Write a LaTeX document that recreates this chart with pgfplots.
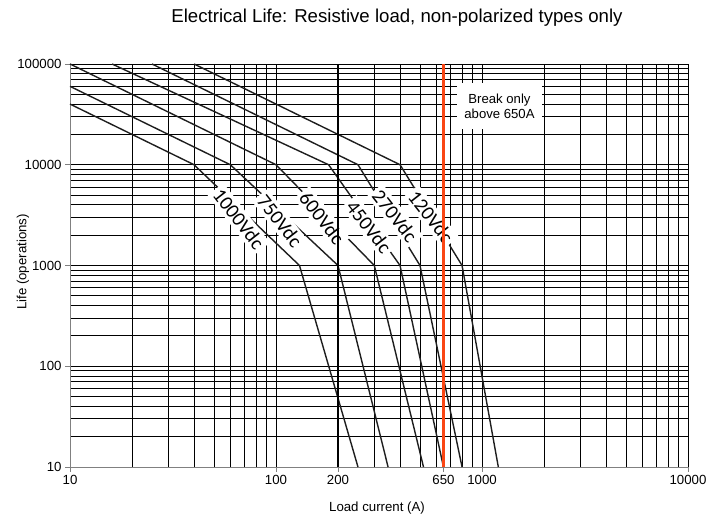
\documentclass[border=0pt]{standalone}
\usepackage{pgfplots}
\pgfplotsset{compat=1.18}
\usepackage{fontspec}
\setmainfont{Liberation Sans}
\newfontfamily\calibri{Carlito}
\definecolor{redline}{RGB}{250,70,20}
\definecolor{curve}{RGB}{30,30,30}
\begin{document}
\begin{tikzpicture}[x=1bp,y=1bp]
\useasboundingbox (0,0) rectangle (719,517);
\begin{axis}[
  at={(70bp,50bp)}, anchor=south west,
  scale only axis, width=618bp, height=403bp,
  xmode=log, ymode=log,
  xmin=10, xmax=10000, ymin=10, ymax=100000,
  enlargelimits=false,
  axis x line*=bottom, axis y line*=left,
  axis line style={-, draw=gray, line width=0.8bp},
  xtick={10,100,200,650,1000,10000},
  xticklabels={10,100,200,650,1000,10000},
  ytick={10,100,1000,10000,100000},
  yticklabels={10,100,1000,10000,100000},
  minor xtick={20,30,40,50,60,70,80,90,300,400,500,600,700,800,900,2000,3000,4000,5000,6000,7000,8000,9000},
  minor ytick={20,30,40,50,60,70,80,90,200,300,400,500,600,700,800,900,2000,3000,4000,5000,6000,7000,8000,9000,20000,30000,40000,50000,60000,70000,80000,90000},
  grid=both,
  major grid style={black, line width=0.9bp},
  minor grid style={black, line width=0.9bp},
  tick align=outside,
  major tick length=5bp, minor tick length=0pt,
  tick style={gray, line width=0.8bp},
  tick label style={font=\fontsize{13.3}{15}\selectfont},
  /pgf/number format/assume math mode=true,
  clip=false,
]
\addplot[curve, line width=1.4bp] coordinates {(10,40000) (40,10000) (130,1000) (250,10)};
\addplot[curve, line width=1.4bp] coordinates {(10,60000) (60,10000) (200,1000) (350,10)};
\addplot[curve, line width=1.4bp] coordinates {(10,100000) (100,10000) (300,1000) (520,10)};
\addplot[curve, line width=1.4bp] coordinates {(16,100000) (180,10000) (400,1000) (650,10)};
\addplot[curve, line width=1.4bp] coordinates {(25,100000) (250,10000) (500,1000) (800,10)};
\addplot[curve, line width=1.4bp] coordinates {(40,100000) (400,10000) (800,1000) (1200,10)};
\begin{scope}[every node/.style={fill=white, rotate=-52, inner sep=3bp, font=\calibri\fontsize{20}{22}\selectfont}]
\node at (axis cs:66,2896) {1000Vdc};
\node at (axis cs:104.5,2768) {750Vdc};
\node at (axis cs:167,2958) {600Vdc};
\node at (axis cs:282.7,2410) {450Vdc};
\node at (axis cs:378,3100) {270Vdc};
\node at (axis cs:565,3027) {120Vdc};
\end{scope}
\addplot[black, line width=2.8bp] coordinates {(200,10) (200,100000)};
\addplot[redline, line width=2.8bp] coordinates {(650,10) (650,100000)};
\end{axis}
\node[fill=white, minimum width=85bp, minimum height=46bp, align=center, inner sep=0pt,
  font=\fontsize{13.2}{15}\selectfont] at (499.5,411) {Break only\\above 650A};
\node[font=\fontsize{18.7}{22}\selectfont] at (397,499) {Electrical Life: Resistive load, non-polarized types only};
\node[font=\fontsize{13.3}{15}\selectfont] at (377,9) {Load current (A)};
\node[font=\fontsize{13.3}{15}\selectfont, rotate=90] at (23,255) {Life (operations)};
\end{tikzpicture}
\end{document}
